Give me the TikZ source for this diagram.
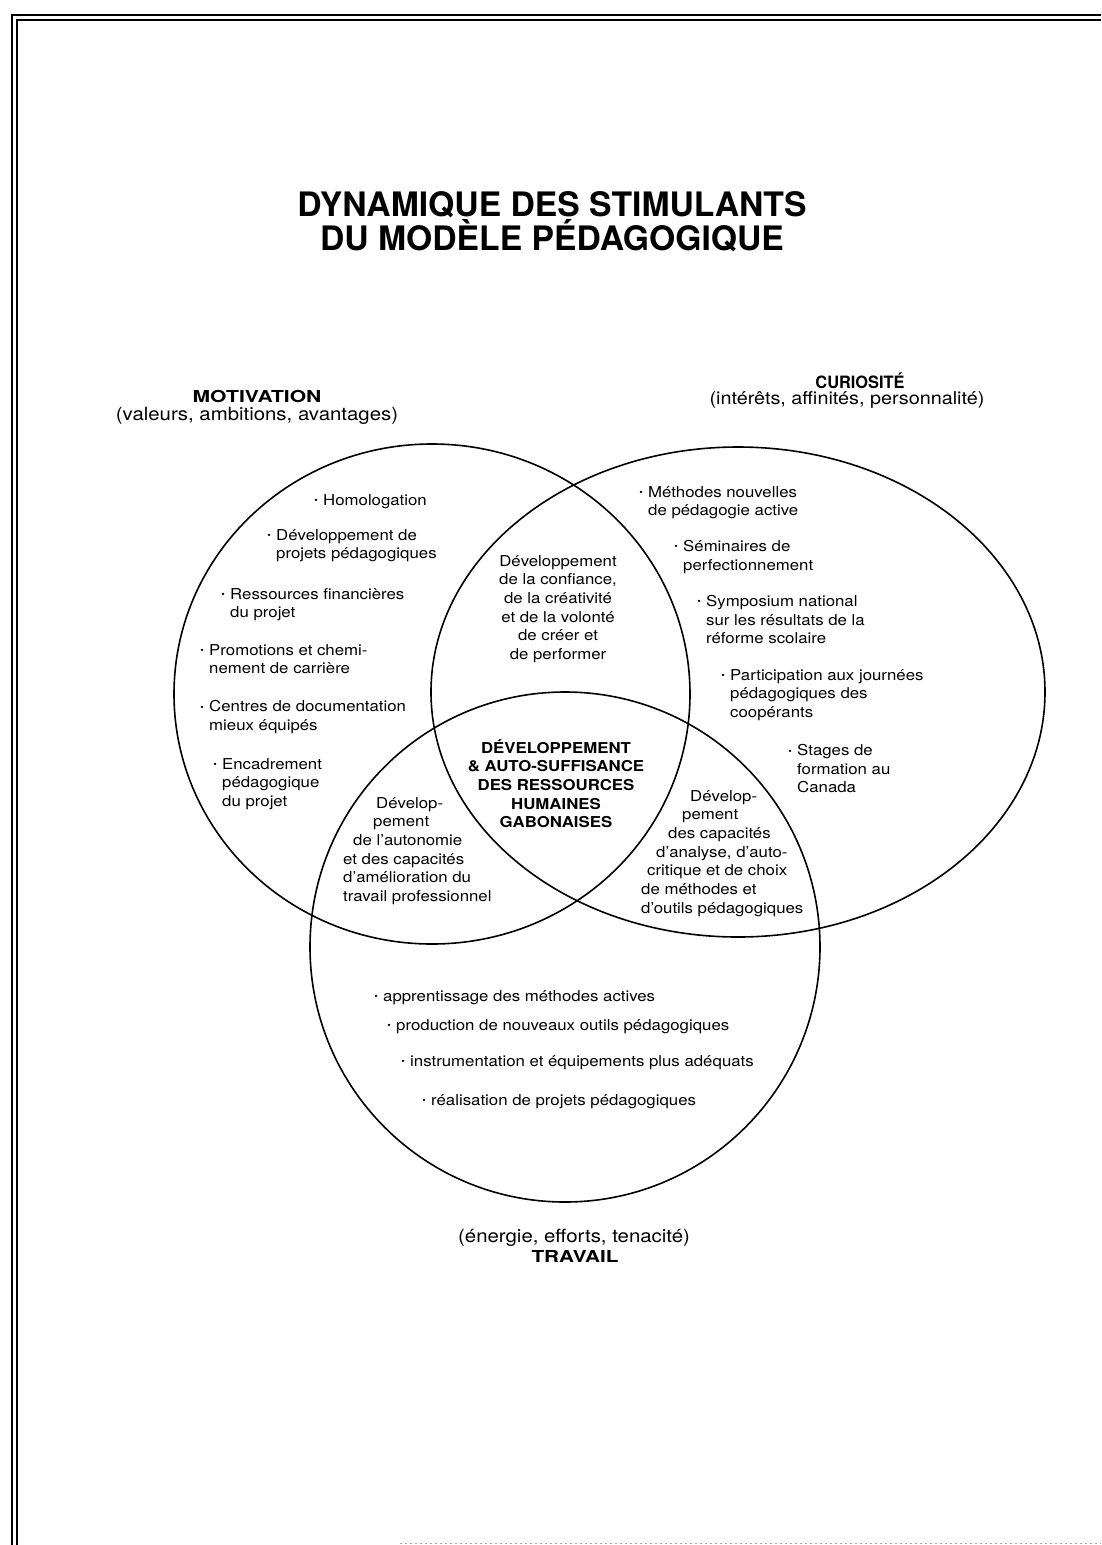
\documentclass[tikz,border=0pt]{standalone}
\usetikzlibrary{shapes.geometric}
\usepackage{fontspec}
\setmainfont{TeX Gyre Heros}[FakeStretch=1.12]
\newfontfamily\titlefont{TeX Gyre Heros}
\usepackage{graphicx}
\newcommand\bul{\raisebox{0.18ex}{\scalebox{0.6}{\textbullet}}\hspace{0.35em}}
\newcommand\bl{\llap{\bul}}
\begin{document}
\begin{tikzpicture}[x=1pt,y=-1pt,
  ring/.style={draw=black,line width=1.6pt,ellipse,inner sep=0pt},
  body/.style={inner sep=0pt,font=\fontsize{15}{18.7}\selectfont},
  item/.style={body,anchor=north west,align=left},
  lens/.style={body,anchor=north,align=center},
  heavy/.style={inner sep=0pt,anchor=north,align=center,font=\fontsize{15}{18.7}\selectfont\bfseries},
  head/.style={inner sep=0pt,anchor=base,font=\fontsize{16.5}{20}\selectfont\bfseries},
  sub/.style={inner sep=0pt,anchor=base,font=\fontsize{18.2}{20}\selectfont},
  ttl/.style={inner sep=0pt,anchor=base,font=\fontsize{33.7}{36}\titlefont\bfseries},
  frame/.style={draw=black}]
\useasboundingbox (0,0) rectangle (1101,1545);
% page frame (double rule, top and left)
\coordinate (ftl) at (12,15);
\coordinate (ftr) at (1101,15);
\coordinate (fbl) at (12,1545);
\coordinate (itl) at (17,20);
\coordinate (itr) at (1101,20);
\coordinate (ibl) at (17,1545);
\draw[frame,line width=2.6pt] (fbl) -- (ftl) -- (ftr);
\draw[frame,line width=1.8pt] (ibl) -- (itl) -- (itr);
\coordinate (sa) at (400,1543);
\coordinate (sb) at (1101,1543);
\draw[black!35,line width=0.8pt,dash pattern=on 2pt off 3pt] (sa) -- (sb);

% title
\node[ttl] (t1) at (552,216) {DYNAMIQUE DES STIMULANTS};
\node[ttl] (t2) at (552,250) {DU MODÈLE PÉDAGOGIQUE};

% circles
\node[ring,minimum width=516pt,minimum height=500pt] (cm) at (432,694) {};
\node[ring,minimum width=614pt,minimum height=490pt] (cc) at (738,692) {};
\node[ring,minimum width=510pt,minimum height=510pt] (ct) at (565,947) {};

% headings
\node[head] (hm) at (257,402) {\scalebox{1.14}[1]{MOTIVATION}};
\node[sub] (hms) at (257,420) {(valeurs, ambitions, avantages)};
\node[head,font=\fontsize{17}{20}\selectfont\bfseries] (hc) at (860,388) {\scalebox{0.86}[1]{CURIOSITÉ}};
\node[sub,font=\fontsize{17.7}{20}\selectfont] (hcs) at (847,404) {(intérêts, affinités, personnalité)};
\node[sub] (hts) at (574,1242) {(énergie, efforts, tenacité)};
\node[head] (ht) at (575,1262) {\scalebox{1.12}[1]{TRAVAIL}};

% motivation items
\node[item] (m1) at (323,494) {\bl Homologation};
\node[item] (m2) at (276,529) {\bl Développement de\\projets pédagogiques};
\node[item] (m3) at (230,588) {\bl Ressources financières\\du projet};
\node[item] (m4) at (209,644) {\bl Promotions et chemi-\\nement de carrière};
\node[item] (m5) at (209,700) {\bl Centres de documentation\\mieux équipés};
\node[item] (m6) at (222,758) {\bl Encadrement\\pédagogique\\du projet};

% curiosite items
\node[item] (c1) at (648,486) {\bl Méthodes nouvelles\\de pédagogie active};
\node[item] (c2) at (683,540) {\bl Séminaires de\\perfectionnement};
\node[item] (c3) at (706,595) {\bl Symposium national\\sur les résultats de la\\réforme scolaire};
\node[item] (c4) at (730,669) {\bl Participation aux journées\\pédagogiques des\\coopérants};
\node[item] (c5) at (797,744) {\bl Stages de\\formation au\\Canada};

% intersections
\node[lens] (l1) at (558,555) {Développement\\de la confiance,\\de la créativité\\et de la volonté\\de créer et\\de performer};
\node[heavy] (l0) at (556,739) {DÉVELOPPEMENT\\\& AUTO-SUFFISANCE\\DES RESSOURCES\\HUMAINES\\GABONAISES};
\node[item] (l2) at (343,797) {\hspace{33pt}Dévelop-\\\hspace{30pt}pement\\\hspace{10pt}de l'autonomie\\et des capacités\\d'amélioration du\\travail professionnel};
\node[item] (l3) at (641,790) {\hspace{49pt}Dévelop-\\\hspace{41pt}pement\\\hspace{27pt}des capacités\\\hspace{15pt}d'analyse, d'auto-\\\hspace{6pt}critique et de choix\\de méthodes et\\d'outils pédagogiques};

% travail items
\node[item] (t1i) at (383,990) {\bl apprentissage des méthodes actives};
\node[item] (t2i) at (396,1019) {\bl production de nouveaux outils pédagogiques};
\node[item] (t3i) at (410,1055) {\bl instrumentation et équipements plus adéquats};
\node[item] (t4i) at (431,1094) {\bl réalisation de projets pédagogiques};
\end{tikzpicture}
\end{document}
